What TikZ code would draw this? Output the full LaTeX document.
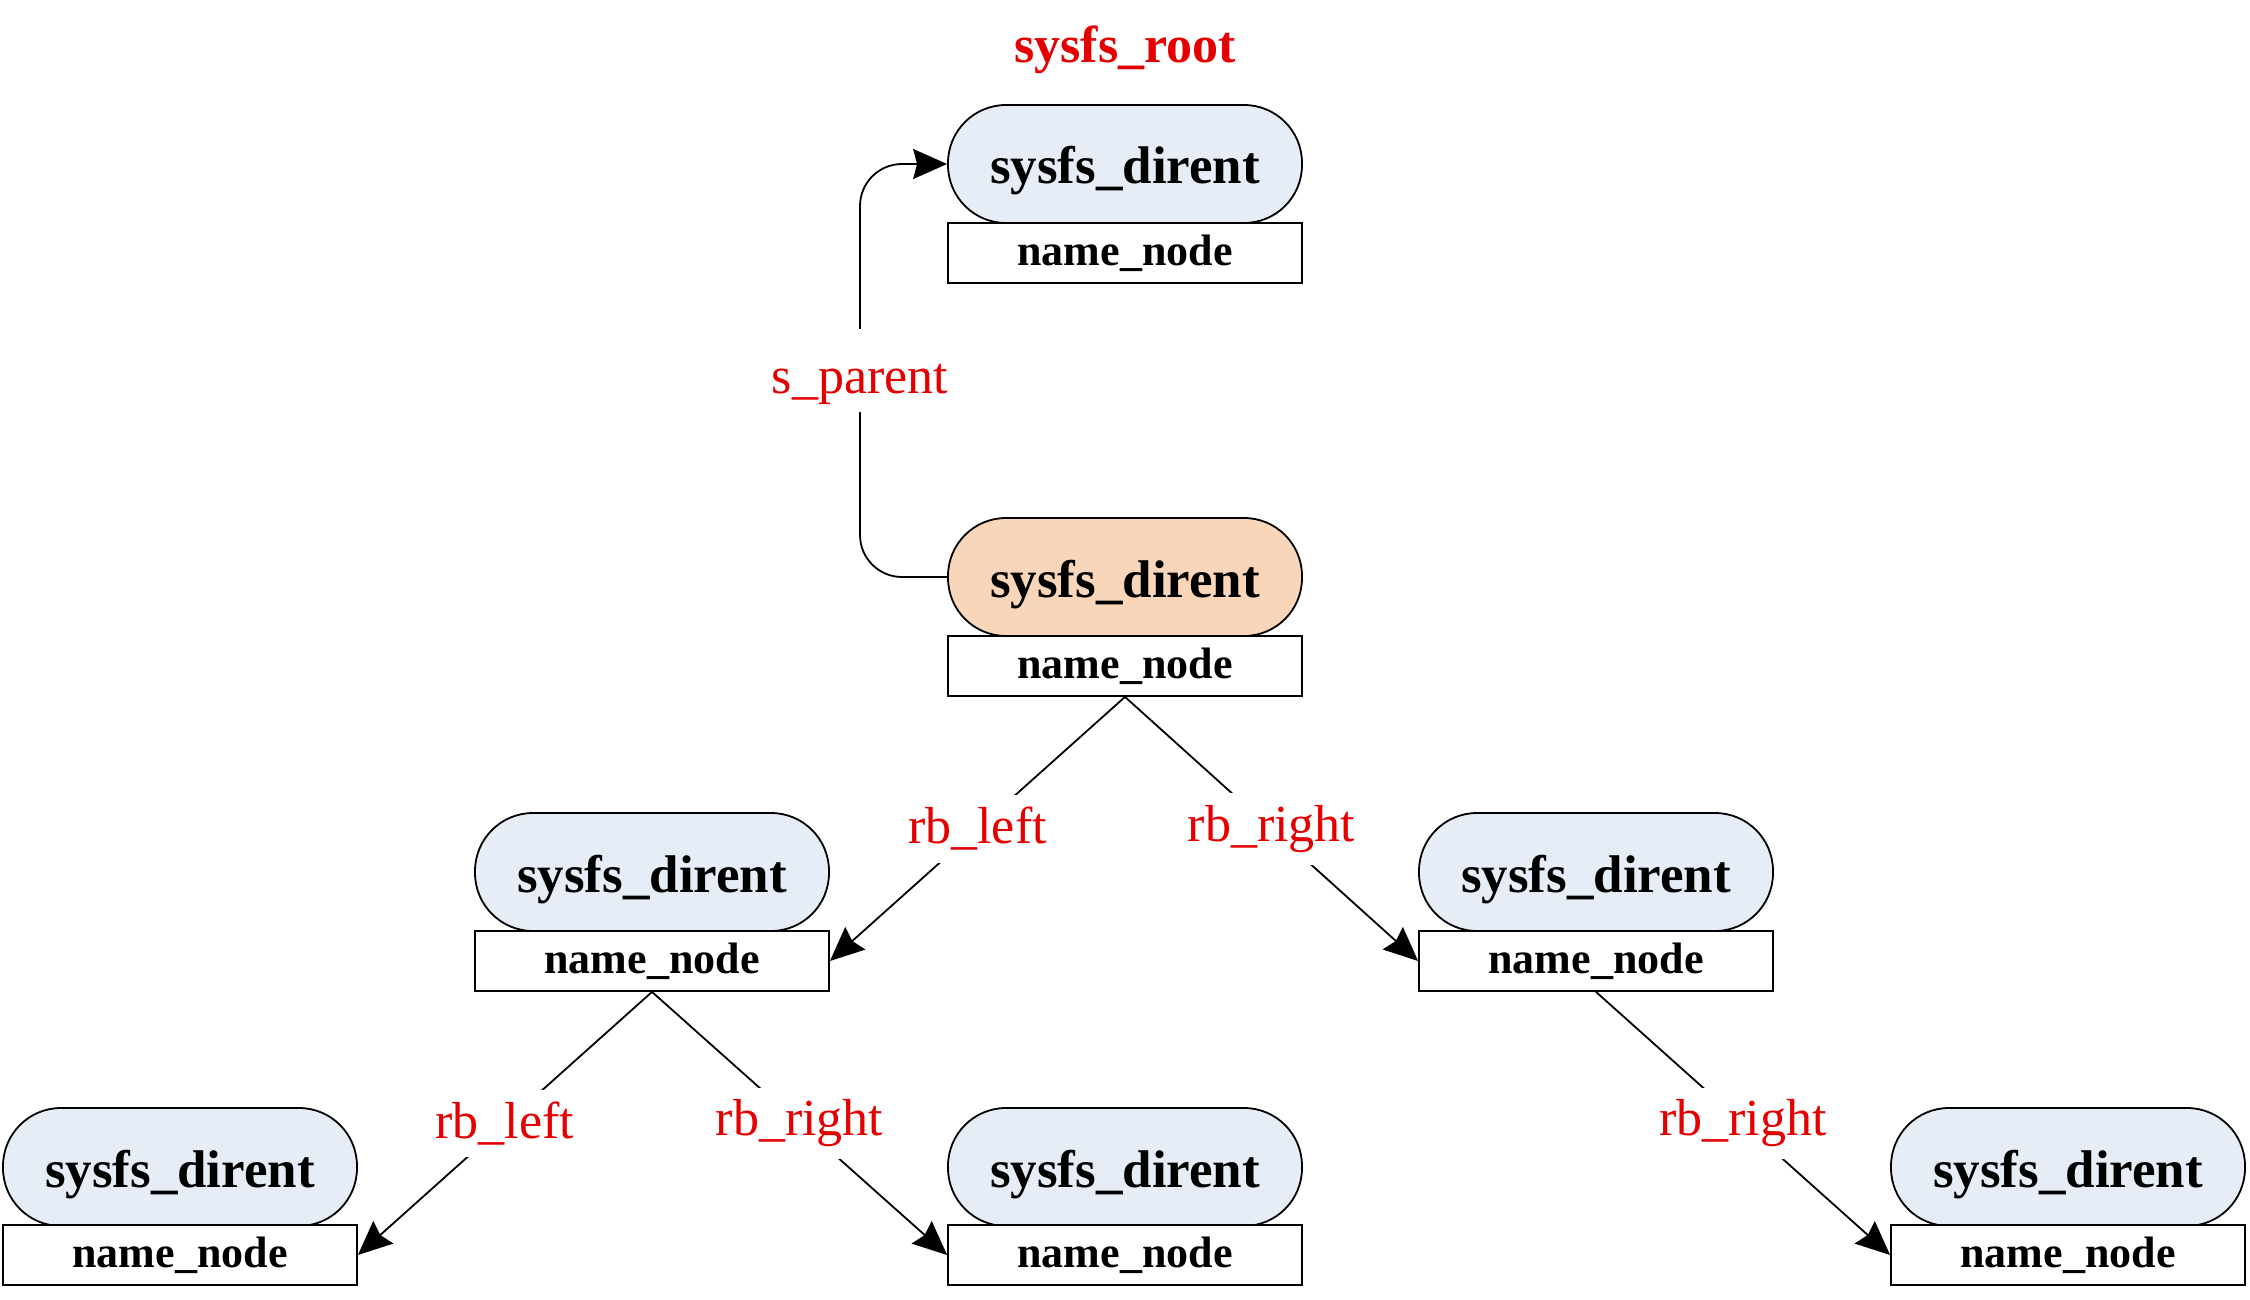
\documentclass[tikz,border=0pt]{standalone}
\usepackage{fontspec}
\setmainfont{Liberation Serif}
\usetikzlibrary{arrows.meta}
\definecolor{lblred}{RGB}{228,0,0}
\definecolor{pillblue}{RGB}{231,237,247}
\definecolor{pillorange}{RGB}{249,214,185}
\tikzset{
  pill/.style={draw=black, line width=1.8pt, fill=pillblue, rectangle, rounded corners=58pt,
    minimum width=354pt, minimum height=118pt, inner sep=0pt,
    text height=40pt, text depth=0pt,
    font=\fontsize{53}{60}\selectfont\bfseries},
  namebox/.style={draw=black, line width=1.8pt, fill=white, rectangle,
    minimum width=354pt, minimum height=60pt, inner sep=0pt,
    font=\fontsize{44}{50}\selectfont\bfseries},
  lbl/.style={fill=white, text=lblred, inner sep=12pt, font=\fontsize{52}{58}\selectfont},
  conn/.style={draw=black, line width=1.8pt},
  arr/.style={conn, -{Stealth[length=34pt, width=30pt, inset=4pt]}},
}
\begin{document}
\begin{tikzpicture}[x=1pt, y=-1pt]
\useasboundingbox (0,0) rectangle (2250,1300);
% title
\node[text=lblred, font=\fontsize{52}{58}\selectfont\bfseries] (title) at (1125,50) {sysfs\_root};
% level 0 (root)
\node[pill] (d0) at (1125,164) {sysfs\_dirent};
\node[namebox] (n0) at (1125,253) {name\_node};
% level 1
\node[pill, fill=pillorange] (d1) at (1125,577) {sysfs\_dirent};
\node[namebox] (n1) at (1125,666) {name\_node};
% level 2
\node[pill] (d2) at (652,872) {sysfs\_dirent};
\node[namebox] (n2) at (652,961) {name\_node};
\node[pill] (d3) at (1596,872) {sysfs\_dirent};
\node[namebox] (n3) at (1596,961) {name\_node};
% level 3
\node[pill] (d4) at (180,1167) {sysfs\_dirent};
\node[namebox] (n4) at (180,1255) {name\_node};
\node[pill] (d5) at (1125,1167) {sysfs\_dirent};
\node[namebox] (n5) at (1125,1255) {name\_node};
\node[pill] (d6) at (2068,1167) {sysfs\_dirent};
\node[namebox] (n6) at (2068,1255) {name\_node};
% s_parent connector
\coordinate (sp) at (860,0);
\draw[arr, rounded corners=42pt] (d1.west) -- (d1.west -| sp) -- node[lbl, inner xsep=10pt, inner ysep=19pt, text height=45pt, text depth=0pt] {s\_parent} (sp |- d0.west) -- (d0.west);
% tree connectors
\draw[arr] (n1.south) -- node[lbl] {rb\_left} (n2.east);
\draw[arr] (n1.south) -- node[lbl] {rb\_right} (n3.west);
\draw[arr] (n2.south) -- node[lbl] {rb\_left} (n4.east);
\draw[arr] (n2.south) -- node[lbl] {rb\_right} (n5.west);
\draw[arr] (n3.south) -- node[lbl] {rb\_right} (n6.west);
\end{tikzpicture}
\end{document}
